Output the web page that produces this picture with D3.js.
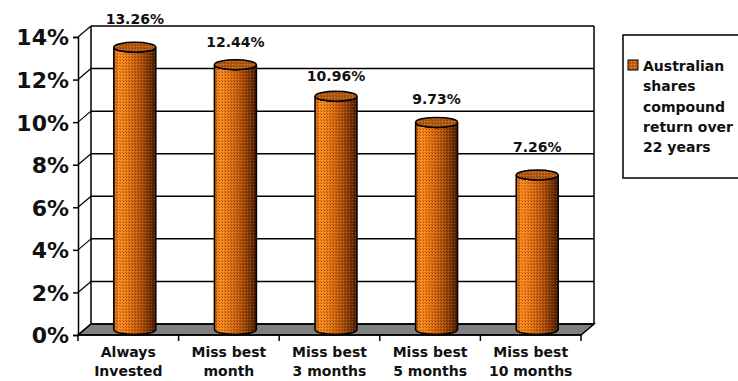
<!DOCTYPE html>
<html lang="en">
<head>
<meta charset="UTF-8">
<title>Missing the best months</title>
<script src="https://d3js.org/d3.v7.min.js"></script>
<style>
  body, html { margin: 0; padding: 0; background: #fff; overflow: hidden; }
  text { font-family: "DejaVu Sans", Verdana, sans-serif; font-weight: bold; fill: #111; }
</style>
</head>
<body>
<div id="chart"></div>
<script>
// data
const categories = [["Always", "Invested"], ["Miss best", "month"], ["Miss best", "3 months"], ["Miss best", "5 months"], ["Miss best", "10 months"]];
const values = [13.26, 12.44, 10.96, 9.73, 7.26];
const yTicks = [0, 2, 4, 6, 8, 10, 12, 14];
const legendLines = ["Australian", "shares", "compound", "return over", "22 years"];

const width = 738, height = 381;
const depthX = 13, depthY = 11;   // 3d offset of back wall

const svg = d3.select("#chart").append("svg")
    .attr("width", width)
    .attr("height", height);

const defs = svg.append("defs");
const grad = defs.append("linearGradient").attr("id", "cylGrad");
[["0%", "#c85a00"], ["12%", "#ff8e20"], ["35%", "#ea7812"], ["62%", "#bb560a"], ["85%", "#7a3404"], ["100%", "#421a00"]]
    .forEach(s => grad.append("stop").attr("offset", s[0]).attr("stop-color", s[1]));

// dither texture like the old excel fill
const dots = defs.append("pattern").attr("id", "dots")
    .attr("width", 3).attr("height", 3).attr("patternUnits", "userSpaceOnUse");
dots.append("rect").attr("width", 1).attr("height", 1).attr("fill", "rgba(50,15,0,0.45)");
dots.append("rect").attr("x", 1).attr("y", 1).attr("width", 1).attr("height", 1).attr("fill", "rgba(255,200,120,0.25)");
dots.append("rect").attr("x", 2).attr("y", 2).attr("width", 1).attr("height", 1).attr("fill", "rgba(50,15,0,0.3)");

const x = d3.scaleBand()
    .domain(d3.range(categories.length))
    .range([78, 581]);

const y = d3.scaleLinear()
    .domain([0, 14])
    .range([335, 37]);

const bx = x.range()[0], ex = x.range()[1];

// floor
const y0 = y(0);
svg.append("polygon")
    .attr("points", [[bx, y0], [ex, y0], [ex + depthX, y0 - depthY], [bx + depthX, y0 - depthY]].join(" "))
    .attr("fill", "#808080")
    .attr("stroke", "#000")
    .attr("stroke-width", 1.5);

// back wall gridlines + side wall diagonals
const grid = svg.append("g");
yTicks.forEach(t => {
    const yy = y(t);
    grid.append("line")
        .attr("x1", bx + depthX).attr("x2", ex + depthX)
        .attr("y1", yy - depthY).attr("y2", yy - depthY)
        .attr("stroke", "#000").attr("stroke-width", 1.5);
    grid.append("line")
        .attr("x1", bx).attr("y1", yy)
        .attr("x2", bx + depthX).attr("y2", yy - depthY)
        .attr("stroke", "#000").attr("stroke-width", 1.2);
});
grid.append("line")
    .attr("x1", bx + depthX).attr("x2", bx + depthX)
    .attr("y1", y(14) - depthY).attr("y2", y0 - depthY)
    .attr("stroke", "#000").attr("stroke-width", 1.5);
grid.append("line")
    .attr("x1", ex + depthX).attr("x2", ex + depthX)
    .attr("y1", y(14) - depthY).attr("y2", y0 - depthY)
    .attr("stroke", "#000").attr("stroke-width", 1.5);

// y axis
const yAxis = svg.append("g")
    .attr("transform", `translate(${bx},0)`)
    .call(d3.axisLeft(y).tickValues(yTicks).tickSize(5).tickPadding(4).tickFormat(d => d + "%"));
yAxis.select(".domain").attr("stroke", "#000").attr("stroke-width", 1.5);
yAxis.selectAll(".tick line").attr("stroke", "#000").attr("stroke-width", 1.5);
yAxis.selectAll(".tick text")
    .attr("font-size", 22)
    .attr("font-family", "DejaVu Sans, sans-serif")
    .attr("font-weight", "bold")
    .attr("fill", "#111")
    .attr("dy", "0.36em");

// x axis: ticks at band edges
const xAxis = svg.append("g");
xAxis.append("line")
    .attr("x1", bx).attr("x2", ex).attr("y1", y0).attr("y2", y0)
    .attr("stroke", "#000").attr("stroke-width", 1.5);
const edges = d3.range(categories.length).map(i => x(i)).concat([ex]);
xAxis.selectAll(".xt").data(edges).enter().append("line")
    .attr("x1", d => d).attr("x2", d => d)
    .attr("y1", y0).attr("y2", y0 + 6)
    .attr("stroke", "#000").attr("stroke-width", 1.5);

xAxis.selectAll(".xl").data(categories).enter().append("text")
    .attr("x", (d, i) => x(i) + x.bandwidth() / 2)
    .attr("y", 357)
    .attr("text-anchor", "middle")
    .attr("font-size", 14)
    .each(function (d) {
        const t = d3.select(this);
        d.forEach((line, k) => {
            t.append("tspan")
                .attr("x", t.attr("x"))
                .attr("dy", k === 0 ? 0 : 19)
                .text(line);
        });
    });

// label baseline: sit above the cylinder, but step off any gridline it would cross
const gridYs = yTicks.map(t => y(t) - depthY);
function labelBaseline(yt) {
    let b = yt - 18;
    gridYs.forEach(g => {
        if (g >= b - 11 && g <= b + 1) {
            const up = g - 2, down = g + 12;
            b = Math.abs(up - b) <= Math.abs(down - b) ? up : down;
        }
    });
    return b;
}

// cylinders
const r = 21, ry = 5;
const cyl = svg.append("g");
values.forEach((v, i) => {
    const cx = x(i) + x.bandwidth() / 2 + depthX / 2;
    const yb = y(0) - depthY / 2;
    const yt = y(v) - depthY / 2;
    const body = `M${cx - r},${yt} L${cx - r},${yb} A${r},${ry} 0 0 0 ${cx + r},${yb} L${cx + r},${yt} A${r},${ry} 0 0 1 ${cx - r},${yt} Z`;
    cyl.append("path").attr("d", body).attr("fill", "url(#cylGrad)");
    cyl.append("path").attr("d", body).attr("fill", "url(#dots)")
        .attr("stroke", "#000").attr("stroke-width", 1.5);
    cyl.append("ellipse")
        .attr("cx", cx).attr("cy", yt).attr("rx", r).attr("ry", ry)
        .attr("fill", "#b85e12");
    cyl.append("ellipse")
        .attr("cx", cx).attr("cy", yt).attr("rx", r).attr("ry", ry)
        .attr("fill", "url(#dots)")
        .attr("stroke", "#000").attr("stroke-width", 1.5);
    cyl.append("text")
        .attr("x", cx)
        .attr("y", labelBaseline(yt))
        .attr("text-anchor", "middle")
        .attr("font-size", 14)
        .text(v.toFixed(2) + "%");
});

// legend
const lg = svg.append("g");
lg.append("rect")
    .attr("x", 623).attr("y", 35).attr("width", 130).attr("height", 143)
    .attr("fill", "#fff").attr("stroke", "#000").attr("stroke-width", 1.5);
lg.append("rect")
    .attr("x", 628).attr("y", 60).attr("width", 10).attr("height", 10)
    .attr("fill", "#d06a14");
lg.append("rect")
    .attr("x", 628).attr("y", 60).attr("width", 10).attr("height", 10)
    .attr("fill", "url(#dots)").attr("stroke", "#000").attr("stroke-width", 1);
lg.selectAll(".ll").data(legendLines).enter().append("text")
    .attr("x", 643)
    .attr("y", (d, i) => 71 + i * 20.3)
    .attr("font-size", 14)
    .text(d => d);
</script>
</body>
</html>
